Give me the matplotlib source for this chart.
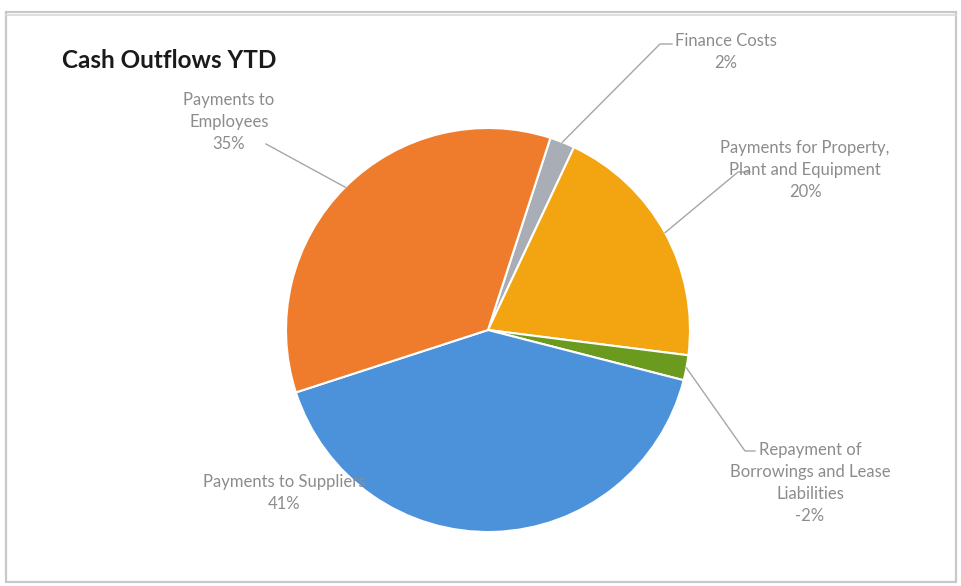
import matplotlib
matplotlib.use("Agg")
import matplotlib.pyplot as plt
from matplotlib.patches import Rectangle
import numpy as np

# Cash outflow categories, in clockwise drawing order
categories = [
    "Finance Costs",
    "Payments for Property,\nPlant and Equipment",
    "Repayment of\nBorrowings and Lease\nLiabilities",
    "Payments to Suppliers",
    "Payments to\nEmployees",
]
shares = [2, 20, -2, 41, 35]          # percent of total outflows
colors = ["#A9AEB6", "#F2A511", "#6A9A1E", "#4C92DA", "#EF7C2C"]

W, H, DPI = 961, 586, 100
fig = plt.figure(figsize=(W / DPI, H / DPI), dpi=DPI)
fig.patch.set_facecolor("white")

# chart frame
frame = Rectangle((6 / W, 4 / H), 950 / W, 570 / H, transform=fig.transFigure,
                  fill=False, edgecolor="#C8C8C8", linewidth=1.6)
fig.add_artist(frame)
fig.add_artist(plt.Line2D([6 / W, 956 / W], [571 / H, 571 / H],
                          transform=fig.transFigure, color="#D9D9D9", lw=1.2))

# pie axes: centre (488, 330) px, radius 202 px
cx, cy, r = 488, 330, 202
ax = fig.add_axes([(cx - r) / W, (H - cy - r) / H, 2 * r / W, 2 * r / H])

wedges, _ = ax.pie([abs(v) for v in shares], colors=colors, startangle=72,
                   counterclock=False, radius=1,
                   wedgeprops=dict(edgecolor="white", linewidth=1.5))
ax.set_xlim(-1, 1)
ax.set_ylim(-1, 1)
ax.set_aspect("equal")
ax.axis("off")

def to_data(px, py):
    return (px - cx) / r, (cy - py) / r

label_font = dict(family=["Lato", "DejaVu Sans"], fontsize=12, color="#8C8C8C",
                  ha="center", va="center", linespacing=1.45)

def mid_point(w):
    a = np.deg2rad((w.theta1 + w.theta2) / 2)
    return np.cos(a), np.sin(a)

# label text positions (px) and leader elbow points (px)
label_pos = [(726, 52), (805, 170), (810, 483), (284, 493), (229, 122)]
elbows = [[(672, 44), (660, 44)], [(750, 172), (738, 172)],
          [(755, 451), (745, 451)], None, [(266, 144)]]

for w, name, val, (tx, ty), el in zip(wedges, categories, shares, label_pos, elbows):
    x0, y0 = to_data(tx, ty)
    ax.text(x0, y0, f"{name}\n{val}%", **label_font)
    if el:
        mx, my = mid_point(w)
        pts = [to_data(*p) for p in el] + [(mx, my)]
        xs, ys = zip(*pts)
        ax.plot(xs, ys, color="#A6A6A6", lw=1.0, clip_on=False)

fig.text(62 / W, 1 - 60 / H, "Cash Outflows YTD", family=["Lato", "DejaVu Sans"],
         fontsize=17.5, fontweight="bold", color="#1A1A1A", ha="left", va="center")

fig.savefig("out.png", dpi=DPI)
